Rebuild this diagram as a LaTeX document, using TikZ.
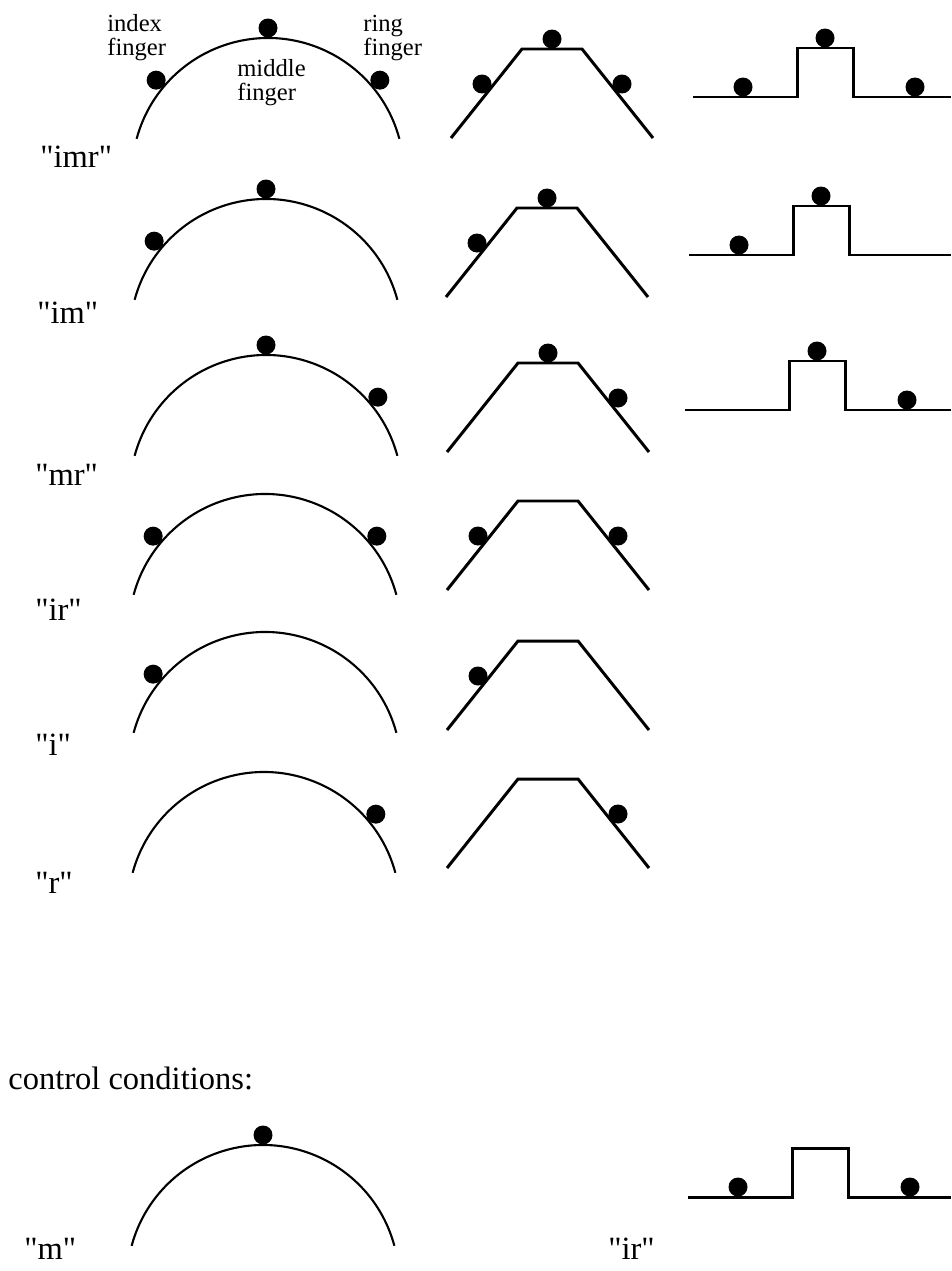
\documentclass[tikz,border=0pt]{standalone}
\usepackage{fontspec}
\setmainfont{Liberation Serif}[Ligatures=TeXOff]
\usepackage{tikz}
\usetikzlibrary{positioning,calc}

\begin{document}
\begin{tikzpicture}[
  x=0.02cm, y=0.02cm,
  arcline/.style={line width=1.2pt},
  plate/.style={line width=1.7pt},
  touch/.style={circle, fill=black, inner sep=0pt, minimum size=0.38cm},
  cond/.style={font=\fontsize{18.5}{20}\selectfont, anchor=base west, inner sep=0pt},
  fname/.style={font=\fontsize{14}{13.6}\selectfont, align=left, anchor=base west, inner sep=0pt}
]
  \useasboundingbox (0,0) rectangle (951,-1271);

  % "imr"
  \begin{scope}[shift={(268,-174)}]
    \draw[arcline] (15:136) arc[start angle=15, end angle=165, radius=136];
    \node[touch] (a1i) at (140:146) {};
    \node[touch] (a1m) at (90:146) {};
    \node[touch] (a1r) at (40:146) {};
  \end{scope}
  \node[fname] (nidx) at (107,-55) {index\\finger};
  \node[fname] (nmid) at (237,-100) {middle\\finger};
  \node[fname] (nring) at (363,-55) {ring\\finger};
  \begin{scope}[shift={(552,-49)}]
    \draw[plate] (-101,-89) -- (-30,0) -- (30,0) -- (101,-89);
    \node[touch] (t1i) at (-70,-35) {};
    \node[touch] (t1m) at (0,10) {};
    \node[touch] (t1r) at (70,-35) {};
  \end{scope}
  \begin{scope}[shift={(797,-97)}]
    \draw[plate] (-104,0) -- (0,0) -- (0,49) -- (56,49) -- (56,0) -- (154,0);
    \node[touch] (s1i) at (-54,10) {};
    \node[touch] (s1m) at (28,59) {};
    \node[touch] (s1r) at (118,10) {};
  \end{scope}
  \node[cond] (imr) at (40,-167) {"imr"};

  % "im"
  \begin{scope}[shift={(266,-335)}]
    \draw[arcline] (15:136) arc[start angle=15, end angle=165, radius=136];
    \node[touch] (a2i) at (140:146) {};
    \node[touch] (a2m) at (90:146) {};
  \end{scope}
  \begin{scope}[shift={(547,-208)}]
    \draw[plate] (-101,-89) -- (-30,0) -- (30,0) -- (101,-89);
    \node[touch] (t2i) at (-70,-35) {};
    \node[touch] (t2m) at (0,10) {};
  \end{scope}
  \begin{scope}[shift={(793,-255)}]
    \draw[plate] (-104,0) -- (0,0) -- (0,49) -- (56,49) -- (56,0) -- (158,0);
    \node[touch] (s2i) at (-54,10) {};
    \node[touch] (s2m) at (28,59) {};
  \end{scope}
  \node[cond] (im) at (37,-323) {"im"};

  % "mr"
  \begin{scope}[shift={(266,-491)}]
    \draw[arcline] (15:136) arc[start angle=15, end angle=165, radius=136];
    \node[touch] (a3m) at (90:146) {};
    \node[touch] (a3r) at (40:146) {};
  \end{scope}
  \begin{scope}[shift={(548,-363)}]
    \draw[plate] (-101,-89) -- (-30,0) -- (30,0) -- (101,-89);
    \node[touch] (t3m) at (0,10) {};
    \node[touch] (t3r) at (70,-35) {};
  \end{scope}
  \begin{scope}[shift={(789,-410)}]
    \draw[plate] (-104,0) -- (0,0) -- (0,49) -- (56,49) -- (56,0) -- (162,0);
    \node[touch] (s3m) at (28,59) {};
    \node[touch] (s3r) at (118,10) {};
  \end{scope}
  \node[cond] (mr) at (35,-485) {"mr"};

  % "ir"
  \begin{scope}[shift={(265,-630)}]
    \draw[arcline] (15:136) arc[start angle=15, end angle=165, radius=136];
    \node[touch] (a4i) at (140:146) {};
    \node[touch] (a4r) at (40:146) {};
  \end{scope}
  \begin{scope}[shift={(548,-501)}]
    \draw[plate] (-101,-89) -- (-30,0) -- (30,0) -- (101,-89);
    \node[touch] (t4i) at (-70,-35) {};
    \node[touch] (t4r) at (70,-35) {};
  \end{scope}
  \node[cond] (ir) at (35,-620) {"ir"};

  % "i"
  \begin{scope}[shift={(265,-768)}]
    \draw[arcline] (15:136) arc[start angle=15, end angle=165, radius=136];
    \node[touch] (a5i) at (140:146) {};
  \end{scope}
  \begin{scope}[shift={(548,-641)}]
    \draw[plate] (-101,-89) -- (-30,0) -- (30,0) -- (101,-89);
    \node[touch] (t5i) at (-70,-35) {};
  \end{scope}
  \node[cond] (i) at (35,-755) {"i"};

  % "r"
  \begin{scope}[shift={(264,-908)}]
    \draw[arcline] (15:136) arc[start angle=15, end angle=165, radius=136];
    \node[touch] (a6r) at (40:146) {};
  \end{scope}
  \begin{scope}[shift={(548,-779)}]
    \draw[plate] (-101,-89) -- (-30,0) -- (30,0) -- (101,-89);
    \node[touch] (t6r) at (70,-35) {};
  \end{scope}
  \node[cond] (r) at (35,-893) {"r"};

  % controls
  \node[cond] (ctrl) at (8,-1089) {control conditions:};
  \begin{scope}[shift={(263,-1281)}]
    \draw[arcline] (15:136) arc[start angle=15, end angle=165, radius=136];
    \node[touch] (a7m) at (90:146) {};
  \end{scope}
  \node[cond] (m) at (24,-1259) {"m"};
  \begin{scope}[shift={(792,-1197)}]
    \draw[plate] (-104,0) -- (0,0) -- (0,49) -- (56,49) -- (56,0) -- (159,0);
    \node[touch] (s7i) at (-54,10) {};
    \node[touch] (s7r) at (118,10) {};
  \end{scope}
  \node[cond] (irc) at (608,-1259) {"ir"};
\end{tikzpicture}
\end{document}
